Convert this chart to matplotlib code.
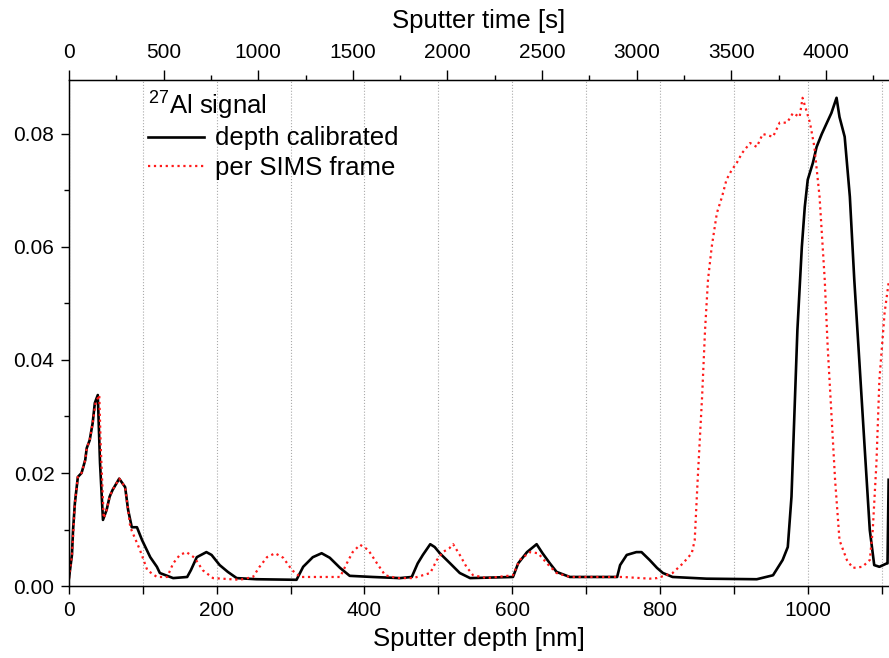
import numpy as np
import matplotlib.pyplot as plt
from matplotlib.ticker import MultipleLocator, FormatStrFormatter

plt.rcParams['font.family'] = ['Liberation Sans', 'DejaVu Sans']
plt.rcParams['mathtext.fontset'] = 'custom'
plt.rcParams['mathtext.rm'] = 'Liberation Sans'

# depth calibrated 27Al signal
black_nm = [0, 4, 5.5, 8, 12, 17, 22, 24, 28, 32, 35, 39, 42, 46, 51, 55, 59, 68, 76, 80,
            85, 92, 99, 110, 119, 123, 141, 160, 165, 173, 186, 193, 204, 215, 227, 254,
            308, 317, 330, 342, 353, 367, 380, 411, 448, 464, 472, 479, 489, 495, 502, 516,
            529, 543, 601, 608, 620, 633, 641, 651, 660, 678, 742, 746, 755, 768, 775, 786,
            796, 804, 817, 863, 931, 953, 966, 973, 978, 982, 986, 992, 996, 1000, 1007,
            1012, 1019, 1026, 1032, 1039, 1043, 1050, 1057, 1063, 1070, 1077, 1084, 1090,
            1097, 1107, 1108, 1109.5]
black_y = [0.0014, 0.0055, 0.0099, 0.0147, 0.0193, 0.0200, 0.0223, 0.0244, 0.0258, 0.0288,
           0.0324, 0.0338, 0.0218, 0.0117, 0.0135, 0.0158, 0.0170, 0.0190, 0.0175, 0.0135,
           0.0104, 0.0104, 0.0081, 0.0051, 0.0034, 0.0023, 0.0014, 0.0016, 0.0028, 0.0051,
           0.0060, 0.0055, 0.0037, 0.0025, 0.0014, 0.0012, 0.0011, 0.0034, 0.0051, 0.0058,
           0.0050, 0.0032, 0.0018, 0.0016, 0.0014, 0.0016, 0.0040, 0.0055, 0.0074, 0.0069,
           0.0058, 0.0040, 0.0023, 0.0014, 0.0016, 0.0040, 0.0060, 0.0074, 0.0058, 0.0040,
           0.0025, 0.0016, 0.0016, 0.0037, 0.0055, 0.0060, 0.0060, 0.0046, 0.0032, 0.0023,
           0.0016, 0.0013, 0.0012, 0.0019, 0.0046, 0.0069, 0.0158, 0.0306, 0.0453, 0.0600,
           0.0671, 0.0719, 0.0749, 0.0777, 0.0800, 0.0820, 0.0837, 0.0864, 0.0830, 0.0795,
           0.0689, 0.0542, 0.0395, 0.0246, 0.0099, 0.0037, 0.0034, 0.0040, 0.0040, 0.0188]

# per SIMS frame
red_nm = [0, 4, 6, 8, 12, 17, 22, 24, 28, 32, 36, 41, 43, 47, 51, 55, 59, 68, 76, 83, 96,
          106, 119, 133, 141, 150, 159, 170, 181, 195, 231, 249, 258, 268, 279, 290, 302,
          313, 367, 376, 384, 394, 405, 417, 428, 444, 466, 489, 498, 506, 515, 520, 529,
          538, 547, 566, 601, 610, 624, 635, 647, 660, 678, 750, 786, 796, 817, 831, 843,
          847, 851, 857, 861, 865, 870, 877, 884, 890, 897, 904, 911, 922, 931, 939, 953,
          962, 972, 980, 989, 993, 1003, 1009, 1016, 1023, 1027, 1032, 1037, 1043, 1053,
          1061, 1074, 1084, 1088, 1093, 1097, 1104, 1110]
red_y = [0.0014, 0.0055, 0.0099, 0.0147, 0.0193, 0.0200, 0.0223, 0.0244, 0.0258, 0.0288,
         0.0324, 0.0338, 0.0246, 0.0120, 0.0135, 0.0158, 0.0170, 0.0190, 0.0175, 0.0104,
         0.0064, 0.0028, 0.0016, 0.0016, 0.0040, 0.0055, 0.0060, 0.0050, 0.0028, 0.0014,
         0.0011, 0.0016, 0.0034, 0.0051, 0.0058, 0.0050, 0.0028, 0.0016, 0.0016, 0.0040,
         0.0060, 0.0073, 0.0064, 0.0040, 0.0019, 0.0014, 0.0014, 0.0023, 0.0046, 0.0060,
         0.0067, 0.0074, 0.0055, 0.0034, 0.0019, 0.0014, 0.0019, 0.0046, 0.0060, 0.0058,
         0.0040, 0.0023, 0.0016, 0.0016, 0.0013, 0.0014, 0.0023, 0.0040, 0.0058, 0.0081,
         0.0188, 0.0335, 0.0453, 0.0542, 0.0600, 0.0660, 0.0689, 0.0719, 0.0736, 0.0749,
         0.0766, 0.0784, 0.0777, 0.0800, 0.0795, 0.0820, 0.0820, 0.0837, 0.0830, 0.0864,
         0.0820, 0.0777, 0.0689, 0.0542, 0.0423, 0.0306, 0.0188, 0.0081, 0.0046, 0.0032,
         0.0034, 0.0046, 0.0099, 0.0218, 0.0365, 0.0483, 0.0542]

sec_per_nm = 3.904
xmax = 1110

fig = plt.figure(figsize=(8.89, 6.58), dpi=100)
ax = fig.add_axes([0.0776, 0.1094, 0.9224, 0.7686])

ax.plot(black_nm, black_y, color='black', lw=1.9, label='depth calibrated')
ax.plot(red_nm, red_y, color='#ff1a1a', lw=1.6, ls=':', label='per SIMS frame')

ax.set_xlim(0, xmax)
ax.set_ylim(0, 0.0895)
ax.xaxis.set_major_locator(MultipleLocator(200))
ax.xaxis.set_minor_locator(MultipleLocator(100))
ax.yaxis.set_major_locator(MultipleLocator(0.02))
ax.yaxis.set_minor_locator(MultipleLocator(0.01))
ax.yaxis.set_major_formatter(FormatStrFormatter('%.2f'))
ax.grid(which='both', axis='x', ls=':', color='#aaaaaa', lw=0.8)
ax.set_axisbelow(True)

ax.tick_params(which='major', length=5.5, width=1.0, labelsize=15, direction='out')
ax.tick_params(which='minor', length=5.5, width=1.0, direction='out')
ax.tick_params(axis='x', which='major', pad=5)
ax.tick_params(axis='y', which='minor', length=3.5)
ax.tick_params(axis='y', which='major', pad=5)
ax.spines['right'].set_visible(False)
for s in ['left', 'bottom', 'top']:
    ax.spines[s].set_linewidth(1.0)

ax.set_xlabel('Sputter depth [nm]', fontsize=18.5, labelpad=5)

top = ax.twiny()
top.set_xlim(0, xmax * sec_per_nm)
top.xaxis.set_major_locator(MultipleLocator(500))
top.xaxis.set_minor_locator(MultipleLocator(250))
top.tick_params(which='major', length=7, width=1.0, labelsize=15, pad=6)
top.tick_params(which='minor', length=3.5, width=1.0)
top.spines['right'].set_visible(False)
top.set_xlabel('Sputter time [s]', fontsize=18.5, labelpad=11)

leg = ax.legend(title='$^{27}$Al signal', loc='upper left', bbox_to_anchor=(0.09, 0.995),
                frameon=False, fontsize=18.5, title_fontsize=18.5, handlelength=2.2,
                handletextpad=0.4, labelspacing=0.22, borderaxespad=0, borderpad=0.2)
leg._legend_box.align = 'left'

fig.savefig('out.png', dpi=100)
